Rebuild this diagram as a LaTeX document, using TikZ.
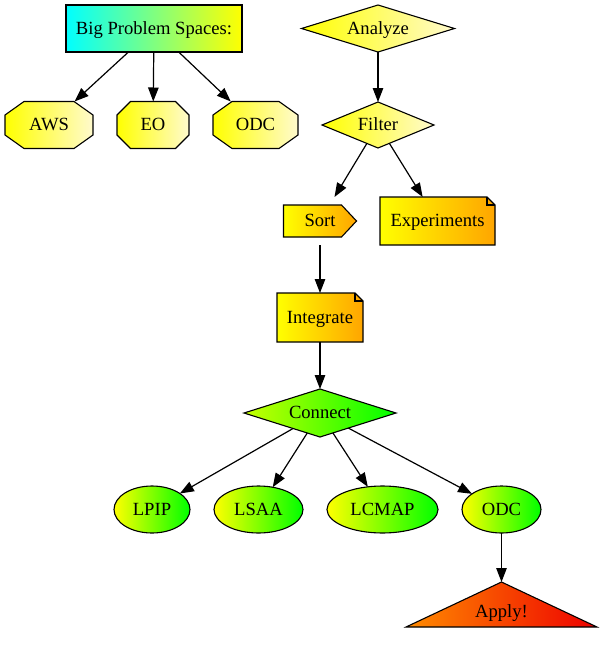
\documentclass[tikz,border=0pt]{standalone}
\usepackage{fontspec}
\setmainfont{Liberation Serif}
\usetikzlibrary{shapes.geometric,arrows.meta,calc,backgrounds}
\definecolor{lemon}{HTML}{FFFACD}
\definecolor{gorange}{HTML}{FFA500}
\definecolor{ygreen}{RGB}{200,255,0}
\definecolor{aorange}{RGB}{255,140,0}
\definecolor{ared}{RGB}{238,0,0}
\newcommand\octshape[3]{%
  \shade[draw,line width=1.1pt,left color=yellow,right color=lemon]
  ($(#1.north west)+(#2,0)$) -- ($(#1.north east)+(-#2,0)$) --
  ($(#1.north east)+(0,#3)$) -- ($(#1.south east)+(0,-#3)$) --
  ($(#1.south east)+(-#2,0)$) -- ($(#1.south west)+(#2,0)$) --
  ($(#1.south west)+(0,-#3)$) -- ($(#1.north west)+(0,#3)$) -- cycle;}
\newcommand\noteshape[2]{%
  \shade[draw,line width=1.1pt,left color=yellow,right color=gorange]
  (#1.south west) -- (#1.south east) -- ($(#1.north east)+(0,#2)$) --
  ($(#1.north east)+(-#2,0)$) -- (#1.north west) -- cycle;
  \draw[line width=1.1pt] ($(#1.north east)+(-#2,0)$) -- ($(#1.north east)+(-#2,#2)$) -- ($(#1.north east)+(0,#2)$);}
\begin{document}
\begin{tikzpicture}[x=1pt,y=-1pt,
  base/.style={inner sep=0pt,outer sep=0pt,font=\fontsize{18.6}{22}\selectfont,line width=1.1pt,text height=13pt,text depth=1.6pt},
  boxed/.style={base,rectangle},
  dia/.style={base,diamond,draw},
  ell/.style={base,ellipse,draw,minimum height=47pt,left color=yellow,right color=green},
  arr/.style={-{Triangle[length=14pt,width=10.5pt]},line width=1.2pt}]
\useasboundingbox (0,0) rectangle (602,648);
% top-left group
\node[boxed,draw,minimum width=176pt,minimum height=47pt,left color=cyan,right color=yellow] (big) at (154,28.5) {Big Problem Spaces:};
\node[boxed,minimum width=88pt,minimum height=47pt] (aws) at (49,125) {AWS};
\node[boxed,minimum width=72pt,minimum height=47pt] (eo) at (153,125) {EO};
\node[boxed,minimum width=85pt,minimum height=47pt] (odca) at (255.5,125) {ODC};
% right column
\node[dia,aspect=3.26,minimum width=153pt,minimum height=47pt,left color=yellow,right color=lemon] (analyze) at (378,28.5) {Analyze};
\node[dia,aspect=2.43,minimum width=112pt,minimum height=46pt,left color=yellow,right color=lemon] (filter) at (378,125) {Filter};
\node[boxed,minimum width=73pt,minimum height=48pt] (sort) at (320,221) {Sort};
\node[boxed,minimum width=115pt,minimum height=48pt] (exper) at (437.5,221) {Experiments};
\node[boxed,minimum width=86pt,minimum height=49pt] (integ) at (320,317.5) {Integrate};
\node[dia,aspect=3.17,minimum width=152pt,minimum height=48pt,left color=ygreen,right color=green] (connect) at (320,413) {Connect};
\node[ell,minimum width=76pt] (lpip) at (152,509.5) {LPIP};
\node[ell,minimum width=89pt] (lsaa) at (258.5,509.5) {LSAA};
\node[ell,minimum width=111pt] (lcmap) at (382.5,509.5) {LCMAP};
\node[ell,minimum width=79pt] (odcb) at (501.5,509.5) {ODC};
\coordinate (applytop) at (501.5,582);
\coordinate (applyr) at (597,627);
\coordinate (applyl) at (406,627);
\node[base] (apply) at (501.5,611.3) {Apply!};
\begin{scope}[on background layer]
  \octshape{aws}{19}{13.5}
  \octshape{eo}{13.5}{13.5}
  \octshape{odca}{19}{13.5}
  \shade[draw,line width=1.1pt,left color=yellow,right color=gorange]
    ($(sort.north west)+(0,8)$) -- ($(sort.north east)+(-15,8)$) -- (sort.east) --
    ($(sort.south east)+(-15,-8)$) -- ($(sort.south west)+(0,-8)$) -- cycle;
  \noteshape{exper}{8}
  \noteshape{integ}{8}
  \shade[draw,line width=1.1pt,left color=aorange,right color=ared]
    (applytop) -- (applyr) -- (applyl) -- cycle;
\end{scope}
% connectors
\draw[arr] (big) -- (aws);
\draw[arr] (big) -- (eo);
\draw[arr] (big) -- (odca);
\draw[arr] (analyze) -- (filter);
\draw[arr] (filter) -- (sort);
\draw[arr] (filter) -- (exper);
\draw[arr] (sort) -- (integ);
\draw[arr] (integ) -- (connect);
\draw[arr] (connect) -- (lpip);
\draw[arr] (connect) -- (lsaa);
\draw[arr] (connect) -- (lcmap);
\draw[arr] (connect) -- (odcb);
\draw[arr] (odcb) -- (applytop);
\end{tikzpicture}
\end{document}
